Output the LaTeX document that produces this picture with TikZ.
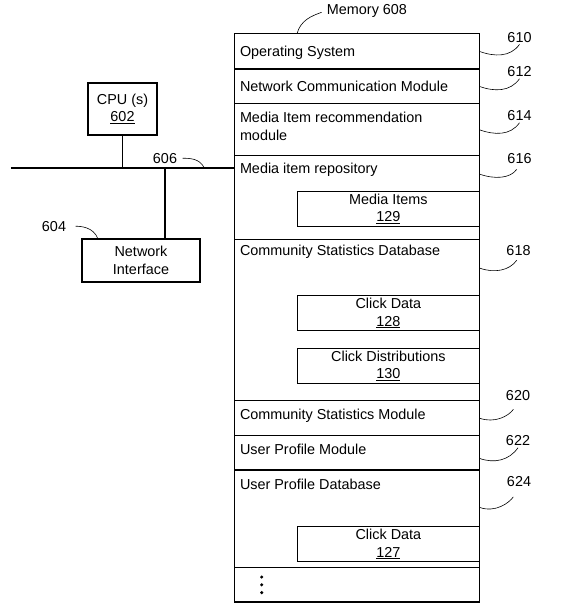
\documentclass[tikz,border=0pt]{standalone}
\usepackage{fontspec}
\setmainfont{Liberation Sans}
\usetikzlibrary{positioning}
\tikzstyle{block} = [draw, rectangle, align=center, inner sep=0pt, outer sep=0pt]
\tikzstyle{memrow} = [draw, rectangle, minimum width=245bp, inner sep=0pt, outer sep=0pt]
\tikzstyle{rowtext} = [inner sep=5bp, align=left]
\tikzstyle{subblock} = [block, minimum width=181.8bp, minimum height=35bp]
\tikzstyle{refnum} = [inner sep=1bp, anchor=base]
\tikzset{
  leader/.style={line width=0.6bp},
}

\begin{document}
\begin{tikzpicture}[x=1bp, y=1bp, line width=1.4bp, font=\fontsize{14.4bp}{17.3bp}\selectfont]
	\useasboundingbox (0,0) rectangle (576,-605);

	% memory 608
	\node [memrow, minimum height=35.3bp, anchor=north west] (os) at (234.3,-33.7) {};
	\node [memrow, minimum height=34.7bp, below=0bp of os] (netcomm) {};
	\node [memrow, minimum height=52bp, below=0bp of netcomm] (recmod) {};
	\node [memrow, minimum height=83.6bp, below=0bp of recmod] (repo) {};
	\node [memrow, minimum height=161.2bp, below=0bp of repo] (statsdb) {};
	\node [memrow, minimum height=35.2bp, below=0bp of statsdb] (statsmod) {};
	\node [memrow, minimum height=34.3bp, below=0bp of statsmod] (profilemod) {};
	\node [memrow, minimum height=97.5bp, below=0bp of profilemod] (profiledb) {};
	\node [memrow, minimum height=34.5bp, below=0bp of profiledb] (more) {};

	\node [rowtext, below right=6.5bp and 0bp of os.north west] (ostext) {Operating System};
	\node [rowtext, below right=6.5bp and 0bp of netcomm.north west] (netcommtext) {Network Communication Module};
	\node [rowtext, below right=3bp and 0bp of recmod.north west] (recmodtext) {Media Item recommendation\\module};
	\node [rowtext, below right=1.5bp and 0bp of repo.north west] (repotext) {Media item repository};
	\node [rowtext, below right=0bp and 0bp of statsdb.north west] (statsdbtext) {Community Statistics Database};
	\node [rowtext, below right=3bp and 0bp of statsmod.north west] (statsmodtext) {Community Statistics Module};
	\node [rowtext, below right=2.5bp and 0bp of profilemod.north west] (profilemodtext) {User Profile Module};
	\node [rowtext, below right=3bp and 0bp of profiledb.north west] (profiledbtext) {User Profile Database};

	\node [subblock, below left=35.6bp and 0bp of repo.north east] (mediaitems) {Media Items\\\underline{129}};
	\node [subblock, below left=56.4bp and 0bp of statsdb.north east] (clickdata) {Click Data\\\underline{128}};
	\node [subblock, below=17.6bp of clickdata] (clickdist) {Click Distributions\\\underline{130}};
	\node [subblock, below left=56.7bp and 0bp of profiledb.north east] (userclicks) {Click Data\\\underline{127}};

	\foreach \k in {0,1,2}
		\fill ([xshift=27.4bp, yshift=-9.5bp-\k*7.8bp]more.north west) circle (1.7bp);

	% cpu, network interface, bus
	\node [block, minimum width=69bp, minimum height=52bp] (cpu) at (122.5,-109) {CPU (s)\\\underline{602}};
	\node [block, minimum width=118bp, minimum height=43bp] (netif) at (141,-260.5) {Network\\Interface};

	\coordinate [below=12.3bp of repo.north west] (busR);
	\coordinate [left=223.3bp of busR] (busL);
	\coordinate [right=24bp of netif.north] (nitap);
	\draw (busL) -- (busR);
	\draw (cpu.south) -- (cpu.south |- busR);
	\draw (nitap) -- (nitap |- busR);

	% reference numerals
	\node [refnum] (l608) at (367,-14.5) {Memory 608};
	\node [refnum] (l606) at (165,-163.2) {606};
	\node [refnum] (l604) at (54,-231.2) {604};
	\node [refnum] (l610) at (519.5,-42.5) {610};
	\node [refnum] (l612) at (519.5,-76.9) {612};
	\node [refnum] (l614) at (519.5,-120.9) {614};
	\node [refnum] (l616) at (519.5,-163.5) {616};
	\node [refnum] (l618) at (518.5,-255.9) {618};
	\node [refnum] (l620) at (518,-400.9) {620};
	\node [refnum] (l622) at (518,-445.9) {622};
	\node [refnum] (l624) at (519,-486.9) {624};

	\coordinate [right=62.7bp of os.north west] (t608);
	\coordinate [left=30bp of busR] (t606);
	\coordinate [right=16bp of netif.north west] (t604);
	\coordinate [below=18.3bp of repo.north east] (t616);
	\coordinate [below=28.7bp of statsdb.north east] (t618);
	\coordinate [below=22.6bp of profilemod.north east] (t622);
	\coordinate [below=37.3bp of profiledb.north east] (t624);

	\draw [leader, shorten >=4bp] (t608) to[out=75, in=-160] (l608.west);
	\draw [leader, shorten <=4bp] (l606.east) to[out=0, in=115] (t606);
	\draw [leader, shorten <=8bp] (l604.east) to[out=0, in=110] (t604);
	\draw [leader] (os.east) to[out=-20, in=-125] (l610.south);
	\draw [leader] (netcomm.east) to[out=-20, in=-125] (l612.south);
	\draw [leader] (recmod.east) to[out=-20, in=-125] (l614.south);
	\draw [leader, shorten >=5bp] (t616) to[out=-20, in=-125] (l616.south);
	\draw [leader, shorten >=3bp] (t618) to[out=-20, in=-125] (l618.south);
	\draw [leader, shorten >=8bp] (statsmod.east) to[out=-20, in=-125] (l620.south);
	\draw [leader] (t622) to[out=-20, in=-125] (l622.south);
	\draw [leader, shorten >=10bp] (t624) to[out=-20, in=-125] (l624.south);
\end{tikzpicture}
\end{document}
